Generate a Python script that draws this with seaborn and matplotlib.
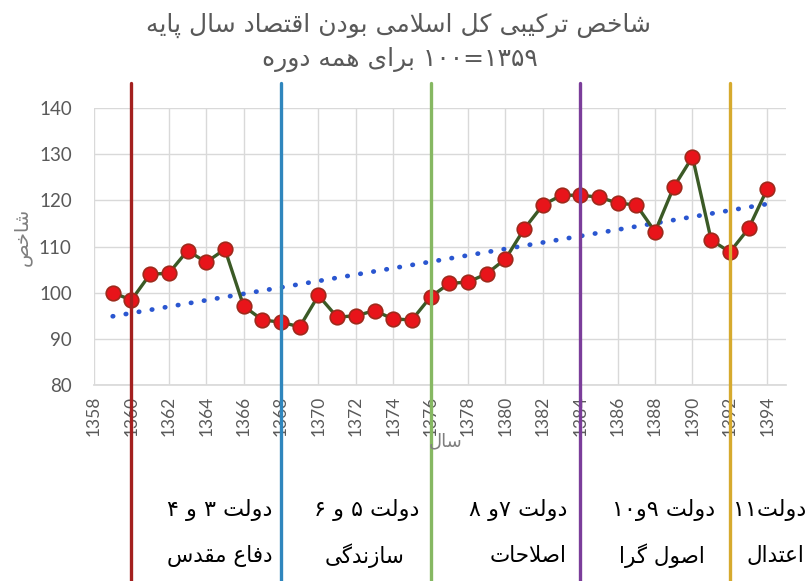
import numpy as np
import pandas as pd
import matplotlib
matplotlib.use("Agg")
import matplotlib.pyplot as plt
import seaborn as sns

# ---------------- data ----------------
years = list(range(1359, 1395))
index_values = [100.0, 98.4, 104.0, 104.2, 109.1, 106.6, 109.4, 97.1, 94.1, 93.6,
                92.6, 99.4, 94.7, 95.0, 96.1, 94.3, 94.1, 99.1, 102.0, 102.3,
                104.1, 107.3, 113.8, 119.0, 121.1, 121.1, 120.7, 119.4, 119.0, 113.2,
                122.9, 129.4, 111.4, 108.8, 113.9, 122.5]
term_starts = [1360, 1368, 1376, 1384, 1392]
term_colors = ["#a3201f", "#2f86bd", "#86b862", "#7b3d9a", "#d6aa2e"]
term_names = ["دولت ۳ و ۴", "دولت ۵ و ۶", "دولت ۷و ۸", "دولت ۹و۱۰", "دولت۱۱"]
term_titles = ["دفاع مقدس", "سازندگی", "اصلاحات", "اصول گرا", "اعتدال"]
x_ticks = list(range(1358, 1395, 2))
y_ticks = [80, 90, 100, 110, 120, 130, 140]
title_lines = ["شاخص ترکیبی کل اسلامی بودن اقتصاد سال پایه", "۱۳۵۹=۱۰۰ برای همه دوره"]
x_title = "سال"
y_title = "شاخص"

# ---------------- simple Persian shaping + visual ordering ----------------
FORMS = {  # isolated, final, initial, medial
    "ا": ("\uFE8D", "\uFE8E", None, None),
    "ب": ("\uFE8F", "\uFE90", "\uFE91", "\uFE92"),
    "پ": ("\uFB56", "\uFB57", "\uFB58", "\uFB59"),
    "ت": ("\uFE95", "\uFE96", "\uFE97", "\uFE98"),
    "ح": ("\uFEA1", "\uFEA2", "\uFEA3", "\uFEA4"),
    "خ": ("\uFEA5", "\uFEA6", "\uFEA7", "\uFEA8"),
    "د": ("\uFEA9", "\uFEAA", None, None),
    "ر": ("\uFEAD", "\uFEAE", None, None),
    "ز": ("\uFEAF", "\uFEB0", None, None),
    "س": ("\uFEB1", "\uFEB2", "\uFEB3", "\uFEB4"),
    "ش": ("\uFEB5", "\uFEB6", "\uFEB7", "\uFEB8"),
    "ص": ("\uFEB9", "\uFEBA", "\uFEBB", "\uFEBC"),
    "ع": ("\uFEC9", "\uFECA", "\uFECB", "\uFECC"),
    "ف": ("\uFED1", "\uFED2", "\uFED3", "\uFED4"),
    "ق": ("\uFED5", "\uFED6", "\uFED7", "\uFED8"),
    "ک": ("\uFB8E", "\uFB8F", "\uFB90", "\uFB91"),
    "گ": ("\uFB92", "\uFB93", "\uFB94", "\uFB95"),
    "ل": ("\uFEDD", "\uFEDE", "\uFEDF", "\uFEE0"),
    "م": ("\uFEE1", "\uFEE2", "\uFEE3", "\uFEE4"),
    "ن": ("\uFEE5", "\uFEE6", "\uFEE7", "\uFEE8"),
    "ه": ("\uFEE9", "\uFEEA", "\uFEEB", "\uFEEC"),
    "و": ("\uFEED", "\uFEEE", None, None),
    "ی": ("\uFBFC", "\uFBFD", "\uFBFE", "\uFBFF"),
}
DIGITS = set("۰۱۲۳۴۵۶۷۸۹0123456789")


def shape(text):
    out = []
    i = 0
    n = len(text)
    while i < n:
        c = text[i]
        if c not in FORMS:
            out.append(c)
            i += 1
            continue
        prev = text[i - 1] if i > 0 else ""
        prev_join = prev in FORMS and FORMS[prev][2] is not None
        if c == "ل" and i + 1 < n and text[i + 1] == "ا":
            out.append("\uFEFC" if prev_join else "\uFEFB")
            i += 2
            continue
        nxt = text[i + 1] if i + 1 < n else ""
        next_join = FORMS[c][2] is not None and nxt in FORMS
        iso, fin, ini, med = FORMS[c]
        if prev_join and next_join:
            out.append(med)
        elif prev_join:
            out.append(fin)
        elif next_join:
            out.append(ini)
        else:
            out.append(iso)
        i += 1
    s = "".join(out)[::-1]
    # restore left-to-right order of digit runs
    res, run = [], []
    for ch in s:
        if ch in DIGITS:
            run.append(ch)
        else:
            if run:
                res.extend(run[::-1])
                run = []
            res.append(ch)
    if run:
        res.extend(run[::-1])
    return "".join(res)


# ---------------- plot ----------------
sns.set_theme(style="white")
plt.rcParams["font.family"] = ["DejaVu Sans"]

W, H = 810, 581
fig = plt.figure(figsize=(W / 100, H / 100), dpi=100)
ax = fig.add_axes([94 / W, 1 - 385 / H, (786 - 94) / W, (385 - 108) / H])

df = pd.DataFrame({"year": years, "value": index_values})

sns.regplot(data=df, x="year", y="value", ax=ax, scatter=False, ci=None,
            line_kws=dict(color="#2a56d0", lw=3.4, linestyle=(0, (0.1, 2.7)),
                          dash_capstyle="round", zorder=3))
sns.lineplot(data=df, x="year", y="value", ax=ax, color="#3b5a26", lw=2.4,
             marker="o", markersize=10.5, markerfacecolor="#e8141a",
             markeredgecolor="#9e2a1c", markeredgewidth=1.2, zorder=4)

for x, c in zip(term_starts, term_colors):
    ax.axvline(x, ymin=-0.708, ymax=1.09, color=c, lw=2.4, clip_on=False, zorder=5)

ax.set_xlim(1358, 1395)
ax.set_ylim(80, 140)
ax.set_xticks(x_ticks)
ax.set_yticks(y_ticks)
ax.set_xticklabels([str(t) for t in x_ticks], rotation=90, fontsize=12.5,
                   color="#595959", family="Lato")
ax.set_yticklabels([str(t) for t in y_ticks], fontsize=13.5, color="#595959", family="Lato")
ax.tick_params(axis="x", length=0, pad=8)
ax.tick_params(axis="y", length=0, pad=16)
ax.grid(True, color="#d9d9d9", lw=1)
for s in ["top", "right", "left"]:
    ax.spines[s].set_visible(False)
ax.spines["bottom"].set_color("#d9d9d9")
ax.set_xlabel("")
ax.set_ylabel("")

# titles and axis titles
fig.text(398 / W, 1 - 25 / H, shape(title_lines[0]), ha="center", va="center",
         fontsize=18, color="#595959")
fig.text(400 / W, 1 - 59 / H, shape(title_lines[1]), ha="center", va="center",
         fontsize=18, color="#595959")
fig.text(22 / W, 1 - 237 / H, shape(y_title), rotation=90, ha="center", va="center",
         fontsize=14, color="#7f7f7f")
fig.text(446 / W, 1 - 441 / H, shape(x_title), ha="center", va="center",
         fontsize=13, color="#7f7f7f")

row1_x = [220, 367, 518, 664, 770]
row2_x = [220, 365, 528, 662, 775]
for name, title, x1, x2 in zip(term_names, term_titles, row1_x, row2_x):
    fig.text(x1 / W, 1 - 510 / H, shape(name), ha="center", va="center",
             fontsize=16, color="black")
    fig.text(x2 / W, 1 - 556 / H, shape(title), ha="center", va="center",
             fontsize=15.5, color="black")

fig.savefig("out.png", dpi=100)
